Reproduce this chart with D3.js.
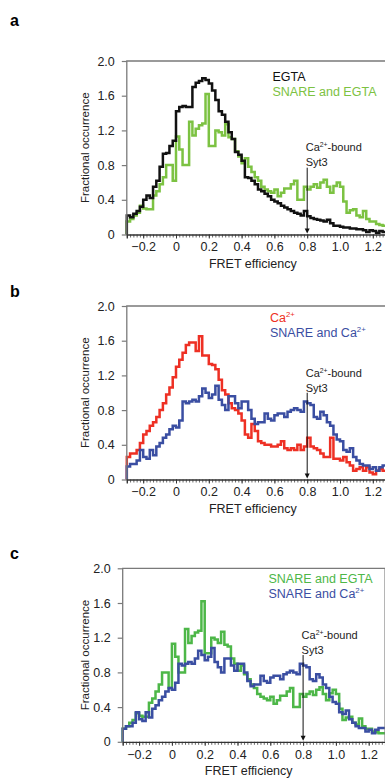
<!DOCTYPE html>
<html>
<head>
<meta charset="utf-8">
<script src="https://cdn.jsdelivr.net/npm/d3@7"></script>
<style>
  html, body { margin: 0; padding: 0; background: #fff; overflow: hidden; }
  svg { display: block; font-family: "Liberation Sans", Arial, sans-serif; }
</style>
</head>
<body>
<svg id="chart" width="385" height="779"></svg>
<script>
// histogram bins: 0.02 wide, starting at -0.30 (80 bins)
const binStart = -0.30;
const binWidth = 0.02;

const egta = [0.22, 0.20, 0.24, 0.27, 0.32, 0.40, 0.45, 0.42, 0.55, 0.62,
  0.78, 0.93, 0.94, 1.02, 1.08, 1.42, 1.47, 1.48, 1.47, 1.47,
  1.70, 1.75, 1.77, 1.80, 1.78, 1.74, 1.66, 1.55, 1.42, 1.38,
  1.30, 1.18, 1.10, 0.95, 0.92, 0.85, 0.66, 0.65, 0.62, 0.58,
  0.52, 0.50, 0.47, 0.44, 0.40, 0.38, 0.36, 0.33, 0.31, 0.29,
  0.27, 0.25, 0.24, 0.22, 0.27, 0.21, 0.19, 0.18, 0.17, 0.16,
  0.15, 0.17, 0.13, 0.10, 0.10, 0.09, 0.08, 0.08, 0.07, 0.07,
  0.06, 0.06, 0.05, 0.03, 0.05, 0.04, 0.02, 0.04, 0.03, 0.03];

const snareEgta = [0.15, 0.18, 0.22, 0.25, 0.33, 0.30, 0.29, 0.29, 0.45, 0.50,
  0.58, 0.66, 0.80, 0.80, 0.62, 1.13, 0.98, 0.80, 0.80, 1.30,
  1.14, 1.22, 1.26, 1.28, 1.62, 1.02, 1.02, 1.20, 1.18, 1.14,
  1.27, 1.12, 1.10, 0.96, 0.90, 0.82, 0.88, 0.78, 0.72, 0.66,
  0.62, 0.55, 0.52, 0.50, 0.48, 0.52, 0.44, 0.48, 0.53, 0.53,
  0.58, 0.62, 0.40, 0.40, 0.55, 0.52, 0.55, 0.58, 0.54, 0.60,
  0.63, 0.55, 0.48, 0.56, 0.60, 0.55, 0.38, 0.25, 0.28, 0.29,
  0.22, 0.20, 0.27, 0.18, 0.15, 0.15, 0.12, 0.11, 0.10, 0.10];

const calcium = [0.26, 0.30, 0.30, 0.34, 0.42, 0.52, 0.56, 0.62, 0.66, 0.72,
  0.80, 0.88, 0.98, 1.06, 1.18, 1.30, 1.38, 1.46, 1.55, 1.58,
  1.58, 1.48, 1.65, 1.43, 1.43, 1.33, 1.32, 1.27, 1.15, 1.03,
  0.98, 0.88, 0.82, 0.80, 0.76, 0.68, 0.52, 0.48, 0.64, 0.56,
  0.44, 0.42, 0.40, 0.40, 0.38, 0.38, 0.40, 0.44, 0.36, 0.34,
  0.36, 0.34, 0.40, 0.34, 0.38, 0.48, 0.38, 0.36, 0.34, 0.30,
  0.26, 0.26, 0.48, 0.24, 0.24, 0.22, 0.26, 0.20, 0.16, 0.10,
  0.12, 0.14, 0.10, 0.14, 0.08, 0.06, 0.10, 0.12, 0.10, 0.10];

const snareCalcium = [0.15, 0.18, 0.18, 0.22, 0.34, 0.26, 0.24, 0.34, 0.28, 0.38,
  0.42, 0.48, 0.52, 0.58, 0.62, 0.60, 0.68, 0.90, 0.88, 0.90,
  0.92, 0.90, 0.96, 1.05, 1.00, 0.94, 0.98, 1.08, 0.92, 0.86,
  0.80, 0.96, 0.96, 0.88, 0.82, 0.90, 0.90, 0.80, 0.70, 0.64,
  0.66, 0.66, 0.76, 0.70, 0.68, 0.74, 0.76, 0.76, 0.72, 0.78,
  0.80, 0.82, 0.80, 0.78, 0.90, 0.88, 0.86, 0.72, 0.70, 0.78,
  0.74, 0.66, 0.62, 0.52, 0.46, 0.44, 0.34, 0.32, 0.36, 0.26,
  0.22, 0.18, 0.16, 0.16, 0.12, 0.14, 0.10, 0.14, 0.16, 0.16];

const yTicks = [0, 0.4, 0.8, 1.2, 1.6, 2.0];
const yTickLabels = ["0", "0.4", "0.8", "1.2", "1.6", "2.0"];
const xTicks = [-0.2, 0, 0.2, 0.4, 0.6, 0.8, 1.0, 1.2];
const xTickLabels = ["\u22120.2", "0", "0.2", "0.4", "0.6", "0.8", "1.0", "1.2"];
const markerValue = 0.8; // Ca2+-bound Syt3

const panels = [
  { letter: "a", letterY: 26, top: 61, left: 126.8,
    series: [
      { name: "SNARE and EGTA", values: snareEgta, color: "#7cc242" },
      { name: "EGTA", values: egta, color: "#111111" }
    ],
    legend: [
      { parts: [["EGTA"]], color: "#111111" },
      { parts: [["SNARE and EGTA"]], color: "#7cc242" }
    ],
    legendX: 272.5, legendY: 81,
    annText: 0.96, annArrow: 0.77 },
  { letter: "b", letterY: 297, top: 306, left: 126.8,
    series: [
      { name: "Ca2+", values: calcium, color: "#ee3024" },
      { name: "SNARE and Ca2+", values: snareCalcium, color: "#3a4ea2" }
    ],
    legend: [
      { parts: [["Ca"], ["2+", true]], color: "#ee3024" },
      { parts: [["SNARE and Ca"], ["2+", true]], color: "#3a4ea2" }
    ],
    legendX: 270, legendY: 322,
    annText: 1.18, annArrow: 1.0 },
  { letter: "c", letterY: 559, top: 568.3, left: 122.7,
    series: [
      { name: "SNARE and EGTA", values: snareEgta, color: "#4db748" },
      { name: "SNARE and Ca2+", values: snareCalcium, color: "#3a4ea2" }
    ],
    legend: [
      { parts: [["SNARE and EGTA"]], color: "#4db748" },
      { parts: [["SNARE and Ca"], ["2+", true]], color: "#3a4ea2" }
    ],
    legendX: 268.5, legendY: 583,
    annText: 1.18, annArrow: 1.0 }
];

const plotW = 262.4;
const plotH = 173.5;
const frameColor = "#7a7a7a";

const svg = d3.select("#chart");

function addRichText(sel, parts, size) {
  parts.forEach(p => {
    const t = sel.append("tspan").text(p[0]);
    if (p[1]) {
      t.attr("font-size", size * 0.62).attr("dy", -size * 0.38);
    } else if (sel.selectAll("tspan").size() > 1) {
      t.attr("dy", size * 0.38);
    }
  });
}

panels.forEach(p => {
  const g = svg.append("g");

  const x = d3.scaleLinear().domain([-0.3, 1.3]).range([p.left, p.left + plotW]);
  const y = d3.scaleLinear().domain([0, 2.0]).range([p.top + plotH, p.top]);

  // panel letter
  svg.append("text")
    .attr("x", 10).attr("y", p.letterY)
    .attr("font-size", 16).attr("font-weight", "bold")
    .attr("font-family", "'Liberation Sans', Arial, sans-serif")
    .text(p.letter);

  // histograms as steps
  const line = d3.line()
    .x(d => x(d[0]))
    .y(d => y(d[1]))
    .curve(d3.curveStepAfter);

  p.series.forEach(s => {
    const pts = [[binStart, 0]];
    s.values.forEach((v, i) => pts.push([binStart + i * binWidth, v]));
    pts.push([binStart + s.values.length * binWidth, s.values[s.values.length - 1]]);
    g.append("path")
      .datum(pts)
      .attr("d", line)
      .attr("fill", "none")
      .attr("stroke", s.color)
      .attr("stroke-width", 2.5)
      .attr("stroke-linejoin", "miter");
  });

  // frame (top, left, right) in grey
  g.append("path")
    .attr("d", `M${x(-0.3)},${y(0)}V${y(2)}H${x(1.3)}V${y(0)}`)
    .attr("fill", "none").attr("stroke", frameColor).attr("stroke-width", 1.3);

  // y axis ticks and labels
  const yAxis = d3.axisLeft(y)
    .tickValues(yTicks)
    .tickSize(5)
    .tickPadding(7)
    .tickFormat((d, i) => yTickLabels[i]);
  const ya = g.append("g").attr("transform", `translate(${x(-0.3)},0)`).call(yAxis);
  ya.select(".domain").remove();
  ya.selectAll(".tick line").attr("stroke", frameColor).attr("stroke-width", 1.2);
  ya.selectAll(".tick text").attr("font-size", 12.5).attr("fill", "#222")
    .attr("font-family", "'Liberation Sans', Arial, sans-serif");

  // x axis minor ticks every 0.02
  const minor = d3.axisBottom(x)
    .tickValues(d3.range(-15, 66).map(k => k * 0.02))
    .tickSize(3)
    .tickFormat("");
  const xm = g.append("g").attr("transform", `translate(0,${y(0)})`).call(minor);
  xm.select(".domain").remove();
  xm.selectAll(".tick line").attr("stroke", "#444").attr("stroke-width", 0.8);

  const xAxis = d3.axisBottom(x)
    .tickValues(xTicks)
    .tickSize(4)
    .tickPadding(4)
    .tickFormat((d, i) => xTickLabels[i]);
  const xa = g.append("g").attr("transform", `translate(0,${y(0)})`).call(xAxis);
  xa.select(".domain").attr("stroke", "#333").attr("stroke-width", 1.3);
  xa.selectAll(".tick line").attr("stroke", "#333").attr("stroke-width", 1);
  xa.selectAll(".tick text").attr("font-size", 12.5).attr("fill", "#222")
    .attr("font-family", "'Liberation Sans', Arial, sans-serif");

  // axis titles
  g.append("text")
    .attr("transform", `translate(89,${p.top + plotH / 2}) rotate(-90)`)
    .attr("text-anchor", "middle")
    .attr("font-size", 11.5).attr("fill", "#222")
    .text("Fractional occurrence");
  g.append("text")
    .attr("x", p.left + 126).attr("y", y(0) + 33.5)
    .attr("text-anchor", "middle")
    .attr("font-size", 12.5).attr("fill", "#222")
    .text("FRET efficiency");

  // legend
  p.legend.forEach((l, i) => {
    const t = g.append("text")
      .attr("x", p.legendX).attr("y", p.legendY + i * 15)
      .attr("font-size", 12.5).attr("fill", l.color);
    addRichText(t, l.parts, 12.5);
  });

  // Ca2+-bound Syt3 marker
  const mx = x(markerValue);
  const ann = g.append("text")
    .attr("x", mx - 1.5).attr("y", y(p.annText))
    .attr("font-size", 11).attr("fill", "#222");
  addRichText(ann, [["Ca"], ["2+", true], ["-bound"]], 11);
  g.append("text")
    .attr("x", mx - 1.5).attr("y", y(p.annText) + 14.5)
    .attr("font-size", 11).attr("fill", "#222")
    .text("Syt3");
  g.append("line")
    .attr("x1", mx).attr("x2", mx)
    .attr("y1", y(p.annArrow)).attr("y2", y(0) - 4)
    .attr("stroke", "#111").attr("stroke-width", 1);
  g.append("path")
    .attr("d", `M${mx - 2.5},${y(0) - 6}L${mx + 2.5},${y(0) - 6}L${mx},${y(0) - 1}Z`)
    .attr("fill", "#111");
});
</script>
</body>
</html>
